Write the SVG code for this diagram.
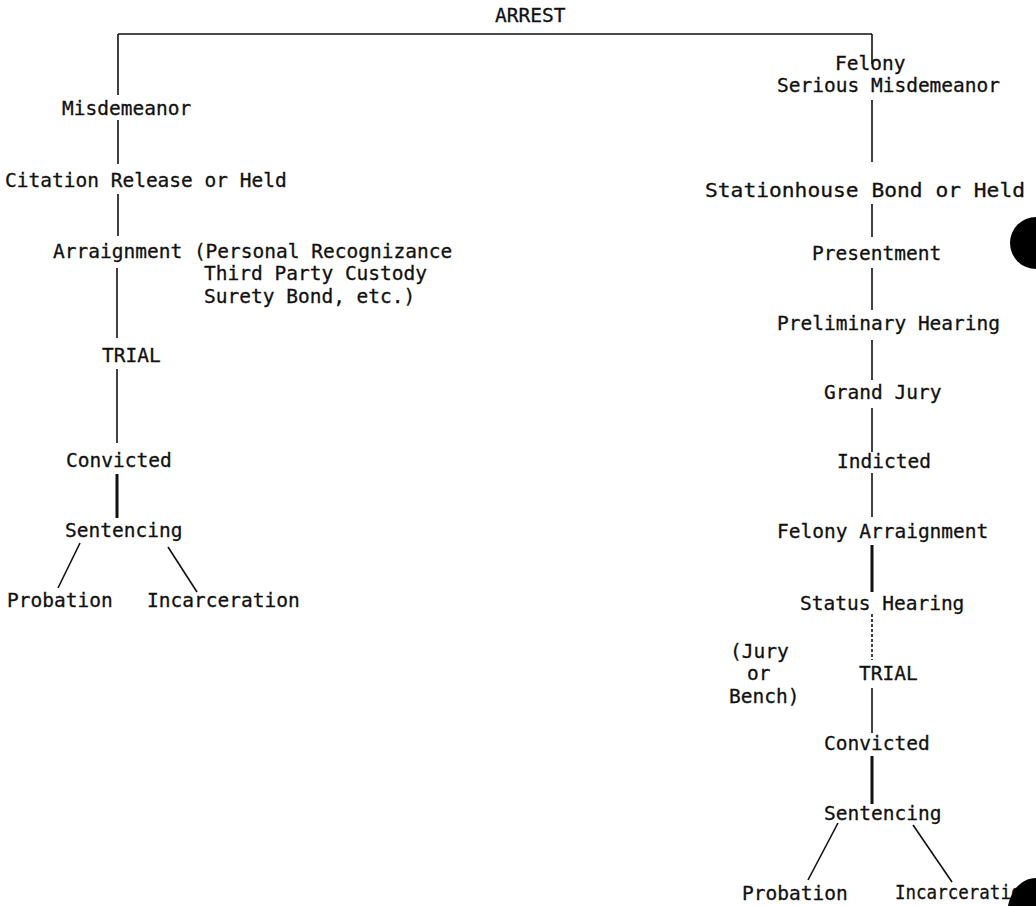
<svg xmlns="http://www.w3.org/2000/svg" width="1036" height="906" viewBox="0 0 1036 906">
<style>
text{font-family:"DejaVu Sans Mono","Liberation Mono",monospace;font-size:19.5px;fill:#111;stroke:#111;stroke-width:0.3}
.ln{stroke:#111;stroke-width:1.6;fill:none}
.thk{stroke:#111;stroke-width:3;fill:none}
</style>
<rect width="1036" height="906" fill="#fff"/>
<g id="connectors">
<path class="ln" d="M118 34 H872"/>
<path class="ln" d="M118 34 V95"/>
<path class="ln" d="M872 34 V64"/>
<path class="ln" d="M118 120 V164"/>
<path class="ln" d="M118 194 V236"/>
<path class="ln" d="M117 268 V338"/>
<path class="ln" d="M117 369 V443"/>
<path class="thk" d="M117 474 V518"/>
<path class="ln" d="M80 543 L58 588"/>
<path class="ln" d="M168 547 L197 592"/>
<path class="ln" d="M872 100 V162"/>
<path class="ln" d="M872 204 V237"/>
<path class="ln" d="M872 268 V310"/>
<path class="ln" d="M872 340 V380"/>
<path class="ln" d="M872 408 V452"/>
<path class="ln" d="M872 473 V517"/>
<path class="thk" d="M872 545 V592"/>
<path class="ln" d="M872 614 V660" stroke-dasharray="3 2"/>
<path class="ln" d="M872 688 V733"/>
<path class="thk" d="M872 756 V804"/>
<path class="ln" d="M838 823 L808 880"/>
<path class="ln" d="M913 825 L952 882"/>
</g>
<g id="arrest"><text x="495" y="22">ARREST</text></g>
<g id="misdemeanor"><text x="62" y="115">Misdemeanor</text></g>
<g id="citation"><text x="5" y="187">Citation Release or Held</text></g>
<g id="arraignment"><text x="53" y="258">Arraignment (Personal Recognizance</text><text x="204" y="280">Third Party Custody</text><text x="204" y="303">Surety Bond, etc.)</text></g>
<g id="trial-left"><text x="102" y="362">TRIAL</text></g>
<g id="convicted-left"><text x="66" y="467">Convicted</text></g>
<g id="sentencing-left"><text x="65" y="537">Sentencing</text></g>
<g id="probation-left"><text x="7" y="607">Probation</text></g>
<g id="incarceration-left"><text x="147" y="607">Incarceration</text></g>
<g id="felony"><text x="835" y="70">Felony</text><text x="777" y="92">Serious Misdemeanor</text></g>
<g id="stationhouse"><text x="705" y="197" textLength="320" lengthAdjust="spacingAndGlyphs">Stationhouse Bond or Held</text></g>
<g id="presentment"><text x="812" y="260">Presentment</text></g>
<g id="preliminary"><text x="777" y="330">Preliminary Hearing</text></g>
<g id="grand-jury"><text x="824" y="399">Grand Jury</text></g>
<g id="indicted"><text x="837" y="468">Indicted</text></g>
<g id="felony-arraignment"><text x="777" y="538">Felony Arraignment</text></g>
<g id="status-hearing"><text x="800" y="610">Status Hearing</text></g>
<g id="trial-right"><text x="859" y="680">TRIAL</text></g>
<g id="jury-bench"><text x="730" y="658">(Jury</text><text x="747" y="680">or</text><text x="729" y="703">Bench)</text></g>
<g id="convicted-right"><text x="824" y="750">Convicted</text></g>
<g id="sentencing-right"><text x="824" y="820">Sentencing</text></g>
<g id="probation-right"><text x="742" y="900">Probation</text></g>
<g id="incarceration-right"><text x="895" y="899" textLength="137" lengthAdjust="spacingAndGlyphs">Incarceration</text></g>
<g id="scan-marks">
<ellipse cx="1036" cy="243" rx="26" ry="26" fill="#000"/>
<path d="M1036 878 C1022 878 1011 890 1008 906 H1036 Z" fill="#000"/>
</g>
</svg>
